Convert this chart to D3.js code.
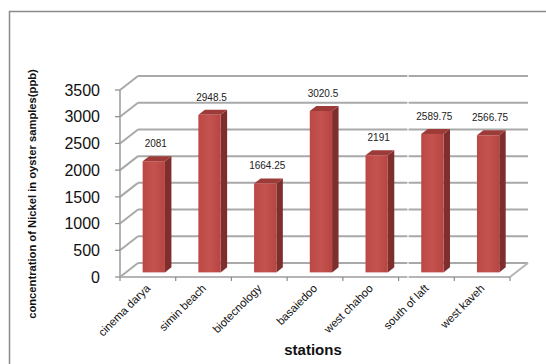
<!DOCTYPE html>
<html><head><meta charset="utf-8">
<script src="https://cdn.jsdelivr.net/npm/d3@7"></script>
<style>
html,body{margin:0;padding:0;background:#fff;}
svg{display:block;font-family:"Liberation Sans",Arial,sans-serif;}
</style></head>
<body>
<svg id="chart" width="546" height="364"></svg>
<script>
const stations = ["cinema darya","simin beach","biotecnology","basaiedoo","west chahoo","south of laft","west kaveh"];
const nickel = [2081, 2948.5, 1664.25, 3020.5, 2191, 2589.75, 2566.75];
const valueLabels = ["2081","2948.5","1664.25","3020.5","2191","2589.75","2566.75"];
const yTicks = [0,500,1000,1500,2000,2500,3000,3500];
const yTitle = "concentration of Nickel in oyster samples(ppb)";
const xTitle = "stations";

const svg = d3.select("#chart");
// outer frame (cropped)
svg.append("rect").attr("x",9.5).attr("y",11.5).attr("width",620).attr("height",420)
  .attr("fill","none").attr("stroke","#8a8a8a").attr("stroke-width",1.5);

const x = d3.scaleBand().domain(stations).range([120,510]).paddingInner(0.6).paddingOuter(0.3);
const band = d3.scaleBand().domain(stations).range([120,510]);
const y = d3.scaleLinear().domain([0,3500]).range([277,90]);
const DX = 18, DY = -14;
const off = t => [DX*t, DY*t];

const grid = svg.append("g").attr("stroke","#a9a9a9").attr("stroke-width",2).attr("fill","none");
yTicks.forEach(v=>{
  const yf = y(v), yb = y(v)+DY;
  grid.append("line").attr("x1",120+DX).attr("y1",yb).attr("x2",510+DX).attr("y2",yb);
  grid.append("line").attr("x1",120).attr("y1",yf).attr("x2",120+DX).attr("y2",yb);
});
grid.append("line").attr("x1",120).attr("y1",y(0)).attr("x2",510).attr("y2",y(0)).attr("stroke","#b5b5b5");
grid.append("line").attr("x1",510).attr("y1",y(0)).attr("x2",510+DX).attr("y2",y(0)+DY).attr("stroke","#b5b5b5");
svg.append("line").attr("x1",120).attr("y1",y(3500)).attr("x2",120).attr("y2",y(0))
  .attr("stroke","#9a9a9a").attr("stroke-width",1.5);
yTicks.forEach(v=>{
  svg.append("line").attr("x1",115).attr("x2",120).attr("y1",y(v)).attr("y2",y(v))
    .attr("stroke","#8a8a8a").attr("stroke-width",1.2);
});
const bounds = stations.map(s=>band(s)).concat([510]);
bounds.forEach(b=>{
  svg.append("line").attr("x1",b).attr("x2",b).attr("y1",y(0)).attr("y2",y(0)+4)
    .attr("stroke","#8a8a8a").attr("stroke-width",1.2);
});
svg.append("line").attr("x1",408).attr("x2",408).attr("y1",65).attr("y2",283)
  .attr("stroke","#fff").attr("stroke-width",1.2);

const defs = svg.append("defs");
const gr = defs.append("linearGradient").attr("id","front").attr("x1","0").attr("x2","1").attr("y1","0").attr("y2","0");
gr.append("stop").attr("offset","0").attr("stop-color","#bb4845");
gr.append("stop").attr("offset","0.5").attr("stop-color","#c4524f");
gr.append("stop").attr("offset","1").attr("stop-color","#b74643");

const t0 = 0.33, t1 = 0.69;
const bars = svg.append("g");
stations.forEach((s,i)=>{
  const v = nickel[i];
  const [ox,oy] = off(t0);
  const [ex,ey] = off(t1-t0);
  const x0 = x(s)+ox, x1 = x(s)+x.bandwidth()+ox;
  const yt = y(v)+oy, yb = y(0)+oy;
  bars.append("path").attr("d",`M${x1},${yt}L${x1+ex},${yt+ey}L${x1+ex},${yb+ey}L${x1},${yb}Z`).attr("fill","#7e2f2d");
  bars.append("path").attr("d",`M${x0},${yt}L${x1},${yt}L${x1+ex},${yt+ey}L${x0+ex},${yt+ey}Z`).attr("fill","#9d3b38");
  bars.append("rect").attr("x",x0).attr("y",yt).attr("width",x1-x0).attr("height",yb-yt).attr("fill","url(#front)");
  svg.append("text").attr("x",(x0+x1)/2+2).attr("y",yt+ey-9).attr("text-anchor","middle")
    .attr("font-size",10).attr("fill","#222").text(valueLabels[i]);
});

yTicks.forEach(v=>{
  svg.append("text").attr("x",100).attr("y",y(v)).attr("dy","0.36em").attr("text-anchor","end")
    .attr("font-size",16).attr("fill","#111").text(v);
});
stations.forEach(s=>{
  const cx = x(s)+x.bandwidth()/2+3, cy = 289;
  svg.append("text").attr("transform",`translate(${cx},${cy}) rotate(-45)`)
    .attr("text-anchor","end").attr("font-size",11.3).attr("fill","#111").text(s);
});
const yt = svg.append("text").attr("transform","translate(36,194) rotate(-90)").attr("text-anchor","middle")
  .attr("font-size",10.5).attr("font-weight","bold").attr("fill","#111").text(yTitle);
const len = yt.node().getComputedTextLength();
yt.attr("font-size", 10.5*250/len);
svg.append("text").attr("x",313).attr("y",355).attr("text-anchor","middle")
  .attr("font-size",15).attr("font-weight","bold").attr("fill","#111").text(xTitle);
</script>
</body></html>
